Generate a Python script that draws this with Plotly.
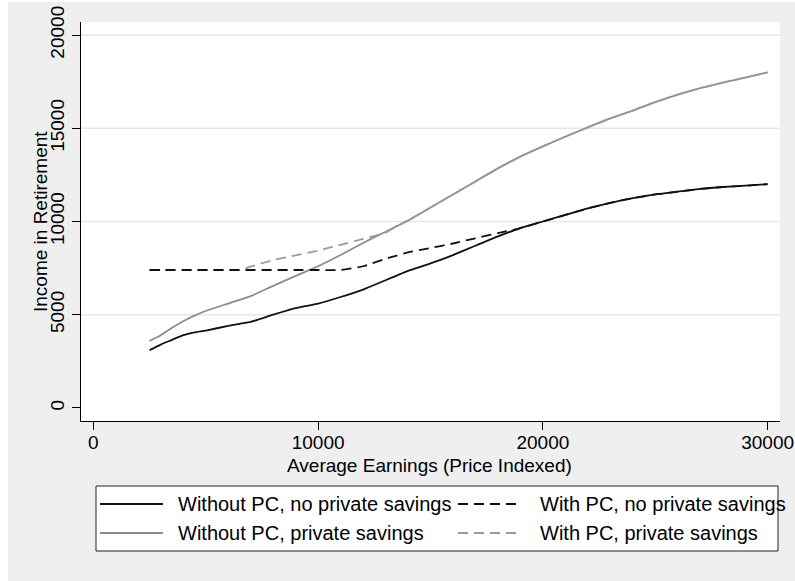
import plotly.graph_objects as go

# Average earnings (price indexed)
earnings = [2500, 3000, 3500, 4000, 4500, 5000, 6000, 6500, 7000, 8000, 9000,
            10000, 11000, 12000, 13000, 13500, 14000, 15000, 16000, 17000, 18000,
            19000, 20000, 21000, 22000, 23000, 24000, 25000, 26000, 27000, 28000,
            29000, 30000]

# Income in retirement for each scenario
no_pc_no_sav = [3100, 3400, 3650, 3900, 4050, 4150, 4400, 4510, 4620, 5000, 5350,
                5600, 5950, 6350, 6850, 7100, 7350, 7750, 8200, 8700, 9200,
                9650, 10000, 10350, 10700, 11000, 11250, 11450, 11600, 11750, 11850,
                11920, 12000]
pc_no_sav = [7400, 7400, 7400, 7400, 7400, 7400, 7400, 7400, 7400, 7400, 7400,
             7400, 7400, 7600, 8000, 8170, 8350, 8580, 8820, 9100, 9380,
             9650, 10000, 10350, 10700, 11000, 11250, 11450, 11600, 11750, 11850,
             11920, 12000]
no_pc_sav = [3600, 3900, 4300, 4650, 4950, 5200, 5600, 5800, 6000, 6550, 7080,
             7600, 8200, 8850, 9450, 9750, 10050, 10750, 11450, 12150, 12850,
             13480, 14030, 14550, 15050, 15530, 15950, 16400, 16800, 17150, 17450,
             17720, 18000]
pc_sav = [7400, 7400, 7400, 7400, 7400, 7400, 7400, 7400, 7580, 7930, 8180,
          8440, 8750, 9070, 9400, 9750, 10050, 10750, 11450, 12150, 12850,
          13480, 14030, 14550, 15050, 15530, 15950, 16400, 16800, 17150, 17450,
          17720, 18000]

series_names = ["Without PC, no private savings", "With PC, no private savings",
                "Without PC, private savings", "With PC, private savings"]

y_ticks = [0, 5000, 10000, 15000, 20000]
x_ticks = [0, 10000, 20000, 30000]

FONT = "Liberation Sans, Arial, sans-serif"
BLACK = "#111111"
GRAY = "#8c8c8c"
GRAY_DASH = "#9a9a9a"
DASH = "10px,6px"

# plot area in pixels
W, H = 795, 581
L, R, T, B = 81, 780, 22, 421


def px_x(px):
    return (px - L) / (R - L)


def px_y(py):
    return (B - py) / (B - T)


styles = [
    (no_pc_no_sav, BLACK, "solid"),
    (pc_no_sav, BLACK, DASH),
    (no_pc_sav, GRAY, "solid"),
    (pc_sav, GRAY_DASH, DASH),
]

fig = go.Figure()
# gray series underneath, black on top
for idx in [2, 3, 0, 1]:
    vals, col, dash = styles[idx]
    fig.add_trace(go.Scatter(
        x=earnings, y=vals, mode="lines", name=series_names[idx],
        line=dict(color=col, width=1.8, dash=dash, shape="spline", smoothing=0.5),
        showlegend=False,
    ))

shapes = []
# white strips at the top and left edge
shapes.append(dict(type="rect", xref="paper", yref="paper",
                   x0=px_x(0), x1=px_x(W), y0=px_y(2), y1=px_y(0),
                   fillcolor="white", line=dict(width=0), layer="below"))
shapes.append(dict(type="rect", xref="paper", yref="paper",
                   x0=px_x(0), x1=px_x(8), y0=px_y(H), y1=px_y(0),
                   fillcolor="white", line=dict(width=0), layer="below"))
# horizontal grid lines (none at zero)
for v in y_ticks[1:]:
    shapes.append(dict(type="line", xref="x domain", yref="y", x0=0, x1=1, y0=v, y1=v,
                       line=dict(color="#e6e6e6", width=1.5), layer="below"))

# legend box
LX0, LX1, LY0, LY1 = 96, 778, 486, 551
shapes.append(dict(type="rect", xref="paper", yref="paper",
                   x0=px_x(LX0), x1=px_x(LX1), y0=px_y(LY1), y1=px_y(LY0),
                   fillcolor="white", line=dict(color="#222222", width=1)))

annotations = []
rows = [504, 533]
cols = [(100, 163, 176), (458, 522, 538)]
order = [[0, 1], [2, 3]]
for ri, ry in enumerate(rows):
    for ci, (sx0, sx1, tx) in enumerate(cols):
        idx = order[ri][ci]
        _, col, dash = styles[idx]
        shapes.append(dict(type="line", xref="paper", yref="paper",
                           x0=px_x(sx0), x1=px_x(sx1), y0=px_y(ry), y1=px_y(ry),
                           line=dict(color=col, width=1.8, dash=dash)))
        annotations.append(dict(xref="paper", yref="paper", x=px_x(tx), y=px_y(ry),
                                xanchor="left", yanchor="middle", showarrow=False,
                                text=series_names[idx],
                                font=dict(family=FONT, size=20, color="black")))

# axis titles
annotations.append(dict(xref="paper", yref="paper", x=px_x(429), y=px_y(465),
                        xanchor="center", yanchor="middle", showarrow=False,
                        text="Average Earnings (Price Indexed)",
                        font=dict(family=FONT, size=19, color="black")))
annotations.append(dict(xref="paper", yref="paper", x=px_x(40), y=px_y(222),
                        xanchor="center", yanchor="middle", showarrow=False,
                        textangle=-90, text="Income in Retirement",
                        font=dict(family=FONT, size=19, color="black")))

fig.update_layout(
    width=W, height=H,
    margin=dict(l=L, r=W - R, t=T, b=H - B, pad=0, autoexpand=False),
    paper_bgcolor="#efefef",
    plot_bgcolor="white",
    font=dict(family=FONT, size=19, color="black"),
    shapes=shapes,
    annotations=annotations,
    showlegend=False,
)
fig.update_xaxes(
    range=[-550, 30550], tickvals=x_ticks, ticktext=[str(v) for v in x_ticks],
    showgrid=False, zeroline=False, showline=True, linecolor="black", linewidth=1,
    ticks="outside", ticklen=8, tickcolor="black", tickwidth=1, automargin=False,
    ticklabelstandoff=-4,
    tickfont=dict(family=FONT, size=19, color="black"),
)
fig.update_yaxes(
    range=[-700, 20700], tickvals=y_ticks, ticktext=[str(v) for v in y_ticks],
    showgrid=False, zeroline=False, showline=True, linecolor="black", linewidth=1,
    ticks="outside", ticklen=8, tickcolor="black", tickwidth=1, tickangle=-90,
    automargin=False,
    tickfont=dict(family=FONT, size=19, color="black"),
)

fig.write_html("out.html")
